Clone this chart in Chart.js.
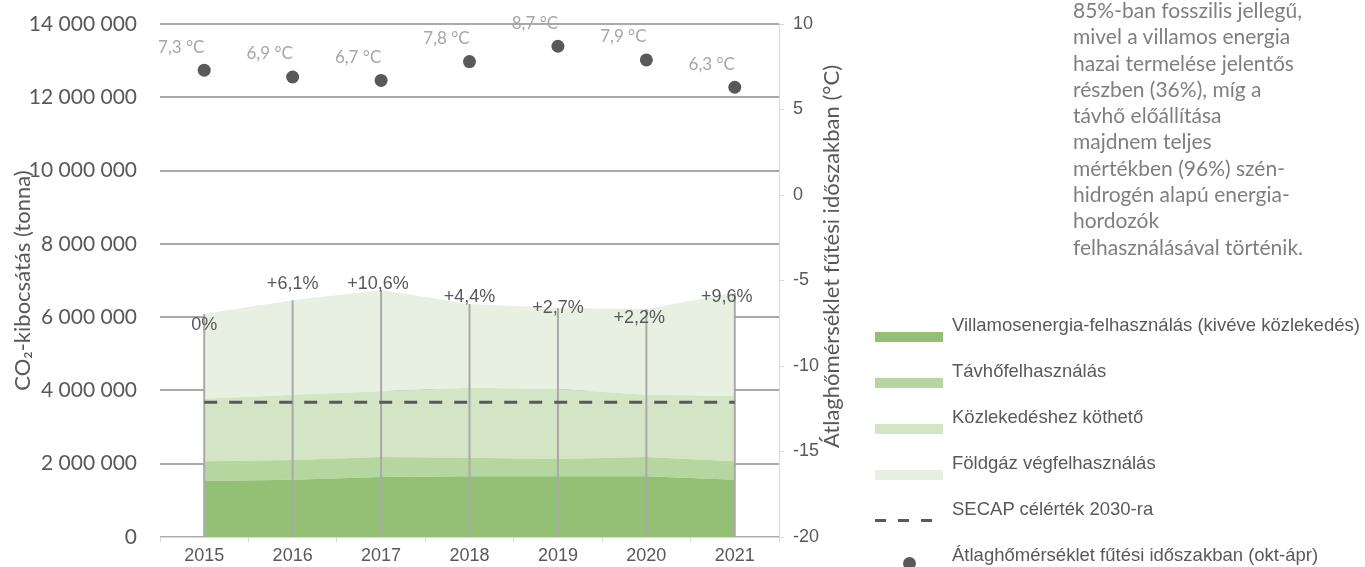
<!DOCTYPE html>
<html lang="hu">
<head>
<meta charset="UTF-8">
<title>CO2-kibocsátás</title>
<script src="https://cdn.jsdelivr.net/npm/chart.js@4"></script>
<style>
  * { box-sizing: border-box; margin: 0; padding: 0; }
  body { background: #fff; width: 1365px; height: 567px; overflow: hidden; position: relative; font-family: "Liberation Sans", Arial, sans-serif; }
  #chart { position: absolute; left: 0; top: 0; }
  .note { position: absolute; left: 1073px; top: -3px; font: 21px/26.3px Lato, sans-serif; color: #7f7f7f; white-space: nowrap; }
  .leg-text { position: absolute; left: 952px; height: 22px; font: 18.5px/22px "Liberation Sans", Arial, sans-serif; color: #595959; white-space: nowrap; }
  .leg-swatch { position: absolute; left: 875px; width: 68px; height: 10px; }
  .leg-dash { position: absolute; left: 875px; width: 60px; height: 3px;
    background: repeating-linear-gradient(90deg, #595959 0 11px, transparent 11px 23px); }
  .leg-dot { position: absolute; left: 903px; width: 13px; height: 13px; border-radius: 50%; background: #595959; }
</style>
</head>
<body>
<canvas id="chart" width="1365" height="567"></canvas>
<div class="note">
  85%-ban fosszilis jellegű,<br>
  mivel a villamos energia<br>
  hazai termelése jelentős<br>
  részben (36%), míg a<br>
  távhő előállítása<br>
  majdnem teljes<br>
  mértékben (96%) szén-<br>
  hidrogén alapú energia-<br>
  hordozók<br>
  felhasználásával történik.
</div>
<div id="legend"></div>

<script>
// ---------- Data ----------
const years = ['2015', '2016', '2017', '2018', '2019', '2020', '2021'];

// CO2 emissions by sector (tonnes), stacked bottom to top
const villamos   = [1530000, 1560000, 1640000, 1660000, 1660000, 1660000, 1560000];
const tavho      = [ 540000,  540000,  540000,  500000,  470000,  520000,  510000];
const kozlekedes = [1700000, 1780000, 1800000, 1910000, 1910000, 1700000, 1780000];
const foldgaz    = [2320000, 2580000, 2760000, 2290000, 2210000, 2340000, 2820000];

// SECAP 2030 target (tonnes)
const secap = [3680000, 3680000, 3680000, 3680000, 3680000, 3680000, 3680000];

// average temperature in the heating season (°C)
const temps = [7.3, 6.9, 6.7, 7.8, 8.7, 7.9, 6.3];

// change of total vs 2015
const changeLabels = ['0%', '+6,1%', '+10,6%', '+4,4%', '+2,7%', '+2,2%', '+9,6%'];

const seriesNames = [
  'Villamosenergia-felhasználás (kivéve közlekedés)',
  'Távhőfelhasználás',
  'Közlekedéshez köthető',
  'Földgáz végfelhasználás',
  'SECAP célérték 2030-ra',
  'Átlaghőmérséklet fűtési időszakban (okt-ápr)',
];

// ---------- Styles ----------
const AREA_COLORS = ['#93c074', '#b6d6a0', '#d4e5c6', '#e8f1e1'];
const DARK = '#595959';
const GRID = '#a9a9a9';
const AXIS = '#d9d9d9';
// pixel nudges for the % labels, relative to the top of the stack
const changeOffsets = [[0, 11], [0, -16], [-3, -6], [0, -7], [0, 0], [-7, 9], [-8, 4]];

const fmt = v => String(v).replace(/\B(?=(\d{3})+(?!\d))/g, ' ');

// ---------- Legend (HTML) ----------
const legend = document.getElementById('legend');
const rowY = [325, 371, 417, 463, 509, 555];
seriesNames.forEach((name, i) => {
  const t = document.createElement('div');
  t.className = 'leg-text';
  t.style.top = (rowY[i] - 11) + 'px';
  t.textContent = name;
  legend.appendChild(t);
  const s = document.createElement('div');
  if (i < 4) {
    s.className = 'leg-swatch';
    s.style.top = (rowY[i] + 7) + 'px';
    s.style.background = AREA_COLORS[i];
  } else if (i === 4) {
    s.className = 'leg-dash';
    s.style.top = (rowY[i] + 10) + 'px';
  } else {
    s.className = 'leg-dot';
    s.style.top = (rowY[i] + 2) + 'px';
  }
  legend.appendChild(s);
});

// ---------- Overlay plugin ----------
const overlay = {
  id: 'overlay',
  afterDatasetDraw(chart, args) {
    // drop lines, drawn once all areas are down
    if (args.index !== 0) return;
    const ctx = chart.ctx;
    const y0 = chart.scales.y.getPixelForValue(0);
    ctx.save();
    ctx.strokeStyle = GRID;
    ctx.lineWidth = 2;
    chart.getDatasetMeta(3).data.forEach(p => {
      ctx.beginPath();
      ctx.moveTo(p.x, y0);
      ctx.lineTo(p.x, p.y);
      ctx.stroke();
    });
    ctx.restore();
  },
  afterDraw(chart) {
    const ctx = chart.ctx;
    ctx.save();
    ctx.textAlign = 'center';
    ctx.textBaseline = 'middle';

    // % change labels
    ctx.fillStyle = DARK;
    ctx.font = '18px "Liberation Sans", Arial, sans-serif';
    chart.getDatasetMeta(3).data.forEach((p, i) => {
      const [dx, dy] = changeOffsets[i];
      ctx.fillText(changeLabels[i], p.x + dx, p.y + dy);
    });

    // temperature labels
    ctx.fillStyle = '#a6a6a6';
    ctx.font = '17px Lato, sans-serif';
    chart.getDatasetMeta(5).data.forEach((p, i) => {
      ctx.fillText(temps[i].toFixed(1).replace('.', ',') + ' °C', p.x - 23, p.y - 23);
    });

    // right axis title (reads bottom to top)
    const y2 = chart.scales.y2;
    ctx.fillStyle = DARK;
    ctx.font = '22px Lato, sans-serif';
    ctx.translate(y2.right - 17, chart.chartArea.top + 41);
    ctx.rotate(-Math.PI / 2);
    ctx.textAlign = 'right';
    ctx.fillText('Átlaghőmérséklet fűtési időszakban (°C)', 0, 0);
    ctx.restore();
  },
};

// ---------- Chart ----------
const areaSets = [villamos, tavho, kozlekedes, foldgaz].map((data, i) => ({
  label: seriesNames[i],
  data,
  yAxisID: 'y',
  stack: 'main',
  order: 3,
  fill: i === 0 ? 'origin' : '-1',
  backgroundColor: AREA_COLORS[i],
  borderWidth: 0,
  pointRadius: 0,
  tension: 0,
}));

function noOverflow(scale) {
  scale.paddingTop = 0;
  scale.paddingBottom = 0;
}

function draw() {
  new Chart(document.getElementById('chart'), {
    type: 'line',
    data: {
      labels: years,
      datasets: [
        ...areaSets,
        {
          label: seriesNames[4],
          data: secap,
          yAxisID: 'y',
          stack: 'secap',
          order: 1,
          fill: false,
          borderColor: DARK,
          borderWidth: 3,
          borderDash: [13, 12],
          pointRadius: 0,
        },
        {
          label: seriesNames[5],
          data: temps,
          yAxisID: 'y2',
          order: 0,
          showLine: false,
          pointRadius: 6.5,
          pointBackgroundColor: DARK,
          pointBorderWidth: 0,
        },
      ],
    },
    options: {
      responsive: false,
      animation: false,
      layout: { padding: { top: 24, right: 516, left: 0, bottom: 0 } },
      plugins: { legend: { display: false }, tooltip: { enabled: false } },
      scales: {
        x: {
          offset: true,
          grid: { offset: true, drawOnChartArea: false, drawTicks: true, tickLength: 5, color: AXIS },
          border: { display: true, color: AXIS, width: 1 },
          ticks: { color: DARK, font: { family: '"Liberation Sans", Arial, sans-serif', size: 18 }, padding: 3, maxRotation: 0, autoSkip: false },
          afterFit(scale) { scale.height = 30; scale.paddingLeft = 0; scale.paddingRight = 0; },
        },
        y: {
          stacked: true,
          min: 0,
          max: 14000000,
          z: 1,
          grid: { color: GRID, lineWidth: 2, drawTicks: false },
          border: { display: false },
          ticks: { stepSize: 2000000, color: DARK, font: { family: 'Lato, sans-serif', size: 21 }, padding: 23, callback: v => fmt(v) },
          title: { display: true, text: 'CO₂-kibocsátás (tonna)', color: DARK, font: { family: 'Lato, sans-serif', size: 22 }, padding: { top: 10, bottom: 0 } },
          afterFit(scale) { scale.width = 160; noOverflow(scale); },
        },
        y2: {
          position: 'right',
          min: -20,
          max: 10,
          grid: { drawOnChartArea: false, drawTicks: true, tickLength: 5, color: AXIS },
          border: { display: true, color: AXIS, width: 1 },
          ticks: { stepSize: 5, color: DARK, font: { family: '"Liberation Sans", Arial, sans-serif', size: 18 }, padding: 9 },
          afterFit(scale) { scale.width = 70; noOverflow(scale); },
        },
      },
    },
    plugins: [overlay],
  });
}

document.fonts.load('20px Lato').then(draw, draw);
</script>
</body>
</html>
